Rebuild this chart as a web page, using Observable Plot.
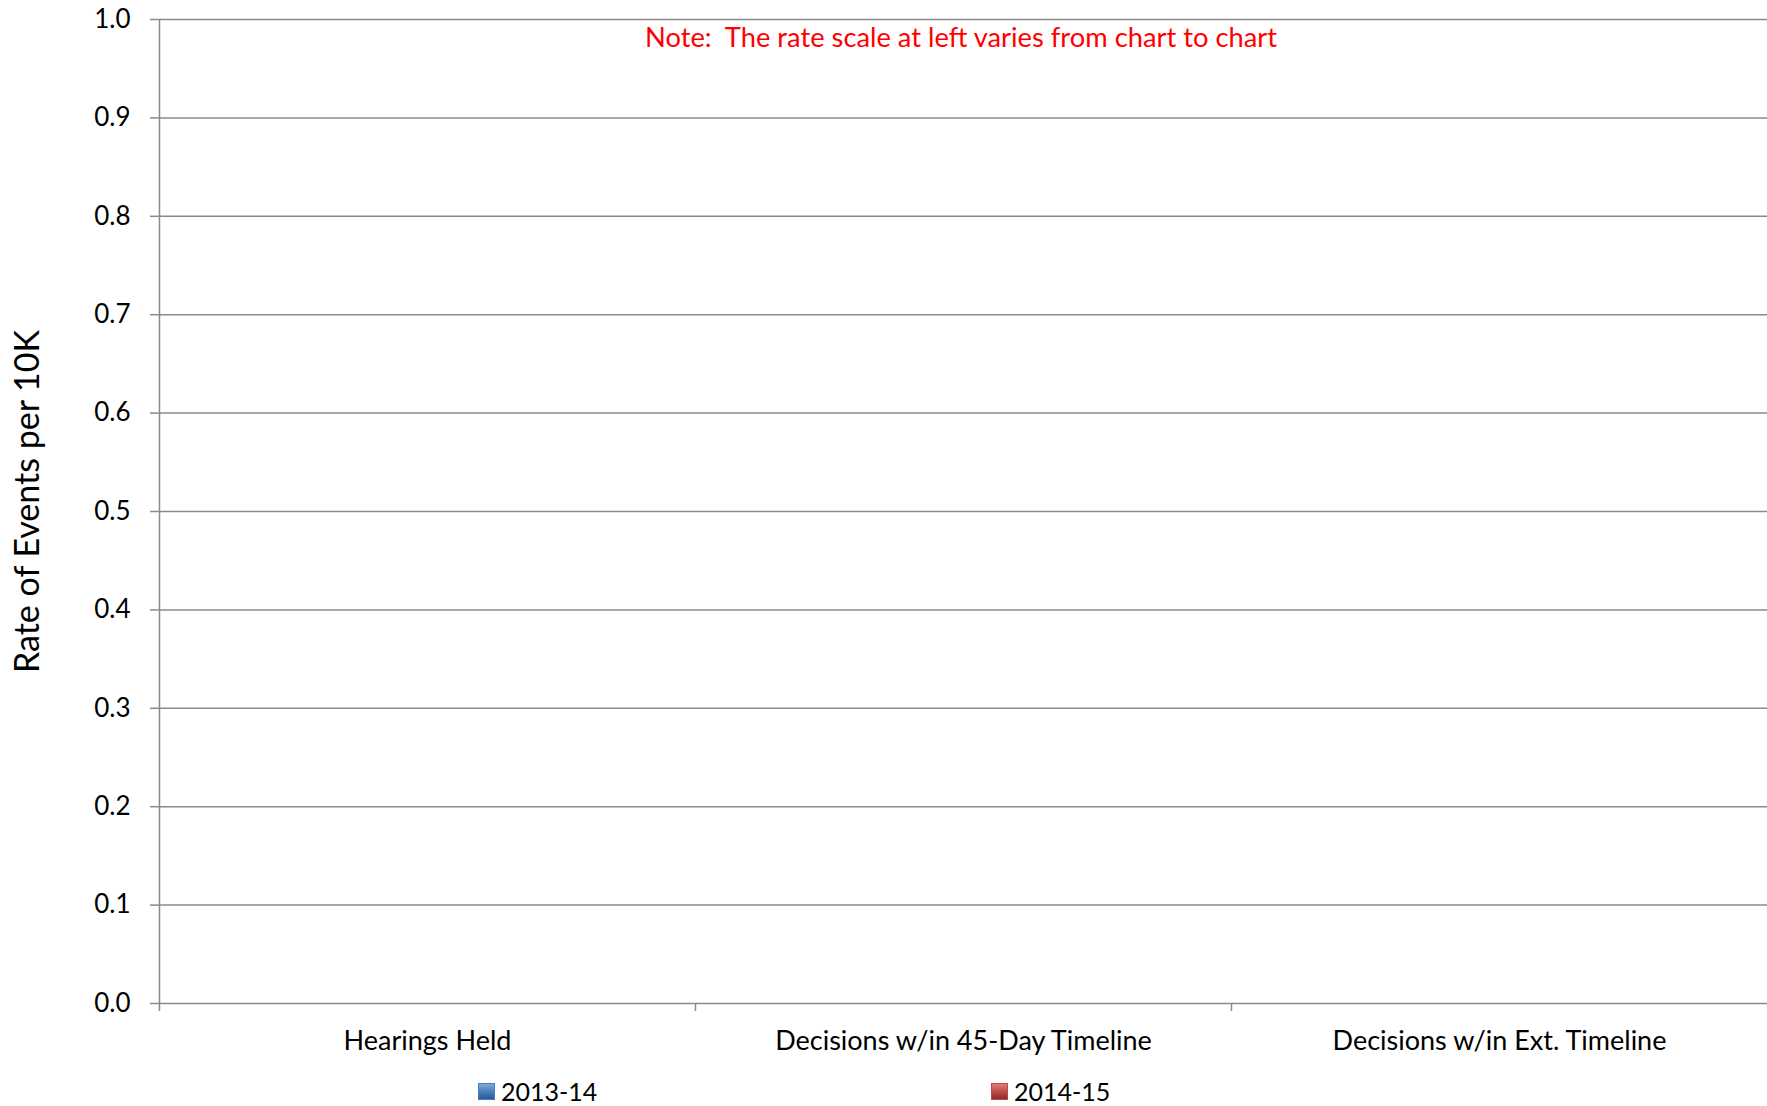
<!DOCTYPE html>
<html>
<head>
<meta charset="utf-8">
<script src="https://cdn.jsdelivr.net/npm/d3@7"></script>
<script src="https://cdn.jsdelivr.net/npm/@observablehq/plot@0.6"></script>
<style>
  html, body { margin: 0; padding: 0; background: #fff; }
  #wrap { position: relative; width: 1767px; height: 1106px; font-family: Lato, "Open Sans", sans-serif; }
  #legend { position: absolute; left: 0; top: 1066px; width: 1767px; height: 40px; }
  .item { position: absolute; top: 10px; display: flex; align-items: center; font-size: 25px; line-height: 30px; color: #000; }
  .sw { width: 17px; height: 17px; margin-right: 6px; box-sizing: border-box; }
</style>
</head>
<body>
<div id="wrap"><div id="chart"></div><div id="legend"></div></div>
<script>
// ---- data ----
const categories = ["Hearings Held", "Decisions w/in 45-Day Timeline", "Decisions w/in Ext. Timeline"];
const seriesNames = ["2013-14", "2014-15"];
const values2013 = [0, 0, 0];
const values2014 = [0, 0, 0];
const yTicks = [0, 0.1, 0.2, 0.3, 0.4, 0.5, 0.6, 0.7, 0.8, 0.9, 1.0];
const yTitle = "Rate of Events per 10K";
const noteText = "Note:  The rate scale at left varies from chart to chart";

// ---- styles ----
const seriesColors = ["#4a7ebb", "#be4b48"];
const gridColor = "#8a8a8a";
const font = "Lato, 'Open Sans', sans-serif";

const rows = [];
categories.forEach((c, i) => {
  rows.push({category: c, series: seriesNames[0], value: values2013[i]});
  rows.push({category: c, series: seriesNames[1], value: values2014[i]});
});

function categoryTicks(index, scales) {
  const x = scales.x, y = scales.y;
  const g = d3.create("svg:g").attr("stroke", gridColor).attr("stroke-width", 1.5);
  categories.forEach((c, i) => {
    const px = Math.round(x(c)) + 0.5;
    g.append("line")
      .attr("x1", px).attr("x2", px)
      .attr("y1", i === 0 ? y(yTicks[yTicks.length - 1]) : y(0))
      .attr("y2", y(0) + 8);
  });
  return g.node();
}

const chart = Plot.plot({
  width: 1767,
  height: 1066,
  marginLeft: 158,
  marginRight: 0,
  marginTop: 19,
  marginBottom: 63,
  style: {fontFamily: font, fontSize: "24px", color: "#000", background: "#fff"},
  x: {type: "band", domain: categories, padding: 0},
  y: {domain: [0, 1], ticks: yTicks},
  marks: [
    Plot.ruleY(yTicks, {stroke: gridColor, strokeWidth: 1.5, strokeOpacity: 1}),
    Plot.barY(rows.filter(d => d.series === seriesNames[0]), {x: "category", y: "value", fill: seriesColors[0], insetLeft: 130, insetRight: 268}),
    Plot.barY(rows.filter(d => d.series === seriesNames[1]), {x: "category", y: "value", fill: seriesColors[1], insetLeft: 268, insetRight: 130}),
    categoryTicks,
    Plot.axisY({ticks: yTicks, tickFormat: d3.format(".1f"), tickSize: 8, tickPadding: 20, stroke: gridColor, strokeWidth: 1.5, strokeOpacity: 1,
      label: yTitle, labelAnchor: "center", labelArrow: "none", labelOffset: 144, fontSize: 26}),
    Plot.axisX({tickSize: 0, tickPadding: 27, label: null, fontSize: 27}),
    Plot.text([noteText], {frameAnchor: "top", dy: 8, dx: -2, fill: "#ff0000", fontSize: 27.3, text: d => d})
  ]
});
// y-axis title size / position
d3.select(chart).selectAll("[aria-label='y-axis label'] text").attr("font-size", 34).attr("dx", 10);
document.getElementById("chart").appendChild(chart);

// ---- legend ----
const legend = document.getElementById("legend");
const legendX = [478, 991];
const grads = [
  "linear-gradient(to bottom, #7fa9dc 0%, #4a7ebb 50%, #2c5a92 100%)",
  "linear-gradient(to bottom, #e07a77 0%, #be4b48 50%, #8c2d2b 100%)"
];
seriesNames.forEach((s, i) => {
  const it = document.createElement("div");
  it.className = "item";
  it.style.left = legendX[i] + "px";
  const sw = document.createElement("div");
  sw.className = "sw";
  sw.style.background = grads[i];
  sw.style.border = "1px solid " + seriesColors[i];
  const t = document.createElement("span");
  t.textContent = s;
  it.appendChild(sw); it.appendChild(t);
  legend.appendChild(it);
});
</script>
</body>
</html>
